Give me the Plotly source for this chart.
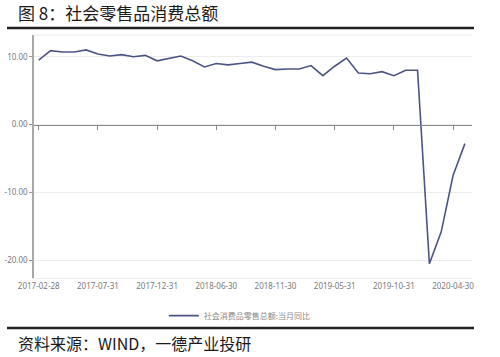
import plotly.graph_objects as go

dates = [
    "2017-02-28", "2017-03-31", "2017-04-30", "2017-05-31", "2017-06-30", "2017-07-31",
    "2017-08-31", "2017-09-30", "2017-10-31", "2017-11-30", "2017-12-31",
    "2018-02-28", "2018-03-31", "2018-04-30", "2018-05-31", "2018-06-30", "2018-07-31",
    "2018-08-31", "2018-09-30", "2018-10-31", "2018-11-30", "2018-12-31",
    "2019-02-28", "2019-03-31", "2019-04-30", "2019-05-31", "2019-06-30", "2019-07-31",
    "2019-08-31", "2019-09-30", "2019-10-31", "2019-11-30", "2019-12-31",
    "2020-02-29", "2020-03-31", "2020-04-30", "2020-05-31",
]
retail_yoy = [
    9.5, 10.9, 10.7, 10.7, 11.0, 10.4, 10.1, 10.3, 10.0, 10.2, 9.4,
    9.7, 10.1, 9.4, 8.5, 9.0, 8.8, 9.0, 9.2, 8.6, 8.1, 8.2,
    8.2, 8.7, 7.2, 8.6, 9.8, 7.6, 7.5, 7.8, 7.2, 8.0, 8.0,
    -20.5, -15.8, -7.5, -2.8,
]
x_ticks = ["2017-02-28", "2017-07-31", "2017-12-31", "2018-06-30",
           "2018-11-30", "2019-05-31", "2019-10-31", "2020-04-30"]
y_ticks = [10, 0, -10, -20]
y_tick_text = ["10.00", "0.00", "-10.00", "-20.00"]
series_name = "社会消费品零售总额:当月同比"

y_min, y_max = -22.6, 13.2
zero_pos = (0 - y_min) / (y_max - y_min)

LINE_COLOR = "#4c5486"
TICK_FONT = dict(family="Noto Sans, DejaVu Sans", size=8, color="#7a7a7a")
CJK = "Noto Sans CJK SC"

fig = go.Figure()
fig.add_trace(go.Scatter(
    x=dates, y=retail_yoy, mode="lines", name=series_name,
    line=dict(color=LINE_COLOR, width=1.6),
))
# helper trace for the zero-line axis (invisible)
fig.add_trace(go.Scatter(
    x=dates, y=retail_yoy, xaxis="x2", mode="lines",
    line=dict(width=0), opacity=0, showlegend=False, hoverinfo="skip",
))

fig.update_layout(
    width=500, height=357,
    margin=dict(l=34, r=28, t=35, b=79, autoexpand=False),
    paper_bgcolor="white", plot_bgcolor="white",
    showlegend=True,
    legend=dict(orientation="h", x=0.47, xanchor="center", y=-0.155, yanchor="middle",
                font=dict(family=CJK, size=8, color="#8a8a8a"),
                bgcolor="rgba(0,0,0,0)", itemwidth=30),
    xaxis=dict(
        type="category", categoryorder="array", categoryarray=dates,
        tickmode="array", tickvals=x_ticks, ticktext=x_ticks,
        tickfont=TICK_FONT, ticks="", showgrid=False, automargin=False,
        showline=True, linecolor="#ececec", linewidth=1,
        range=[-0.4, len(dates) - 0.4], zeroline=False,
    ),
    xaxis2=dict(
        type="category", categoryorder="array", categoryarray=dates,
        overlaying="x", matches="x", anchor="free", position=zero_pos, side="bottom",
        tickmode="array", tickvals=x_ticks, ticktext=["" for _ in x_ticks],
        ticks="outside", ticklen=4, tickcolor="#888888", tickwidth=1,
        showline=True, linecolor="#8a8a8a", linewidth=1, showgrid=False,
        showticklabels=False, automargin=False,
    ),
    yaxis=dict(
        range=[y_min, y_max], tickmode="array", tickvals=y_ticks, ticktext=y_tick_text,
        tickfont=TICK_FONT, ticks="outside", ticklen=3, tickcolor="#999999",
        showgrid=True, gridcolor="#ececec", gridwidth=1, automargin=False,
        showline=True, linecolor="#a8a8a8", linewidth=1.5,
        zeroline=False, mirror=False,
    ),
    shapes=[
        dict(type="line", xref="paper", yref="paper", x0=0, x1=1, y0=1, y1=1,
             line=dict(color="#ececec", width=1)),
        dict(type="line", xref="paper", yref="paper",
             x0=-27 / 438, x1=440 / 438, y0=(278 - 28) / 243, y1=(278 - 28) / 243,
             line=dict(color="#222222", width=2.5)),
        dict(type="line", xref="paper", yref="paper",
             x0=-27 / 438, x1=440 / 438, y0=(278 - 328) / 243, y1=(278 - 328) / 243,
             line=dict(color="#222222", width=2.5)),
    ],
    annotations=[
        dict(text="图 8：社会零售品消费总额", xref="paper", yref="paper",
             x=-18 / 438, y=(278 - 13) / 243, xanchor="left", yanchor="middle",
             showarrow=False, font=dict(family=CJK, size=17, color="#1a1a1a")),
        dict(text="资料来源：WIND，一德产业投研", xref="paper", yref="paper",
             x=-18 / 438, y=(278 - 343) / 243, xanchor="left", yanchor="middle",
             showarrow=False, font=dict(family=CJK, size=16, color="#1a1a1a")),
    ],
)

fig.write_html("out.html", config={"displayModeBar": False},
               post_script="document.body.style.margin='0';")
